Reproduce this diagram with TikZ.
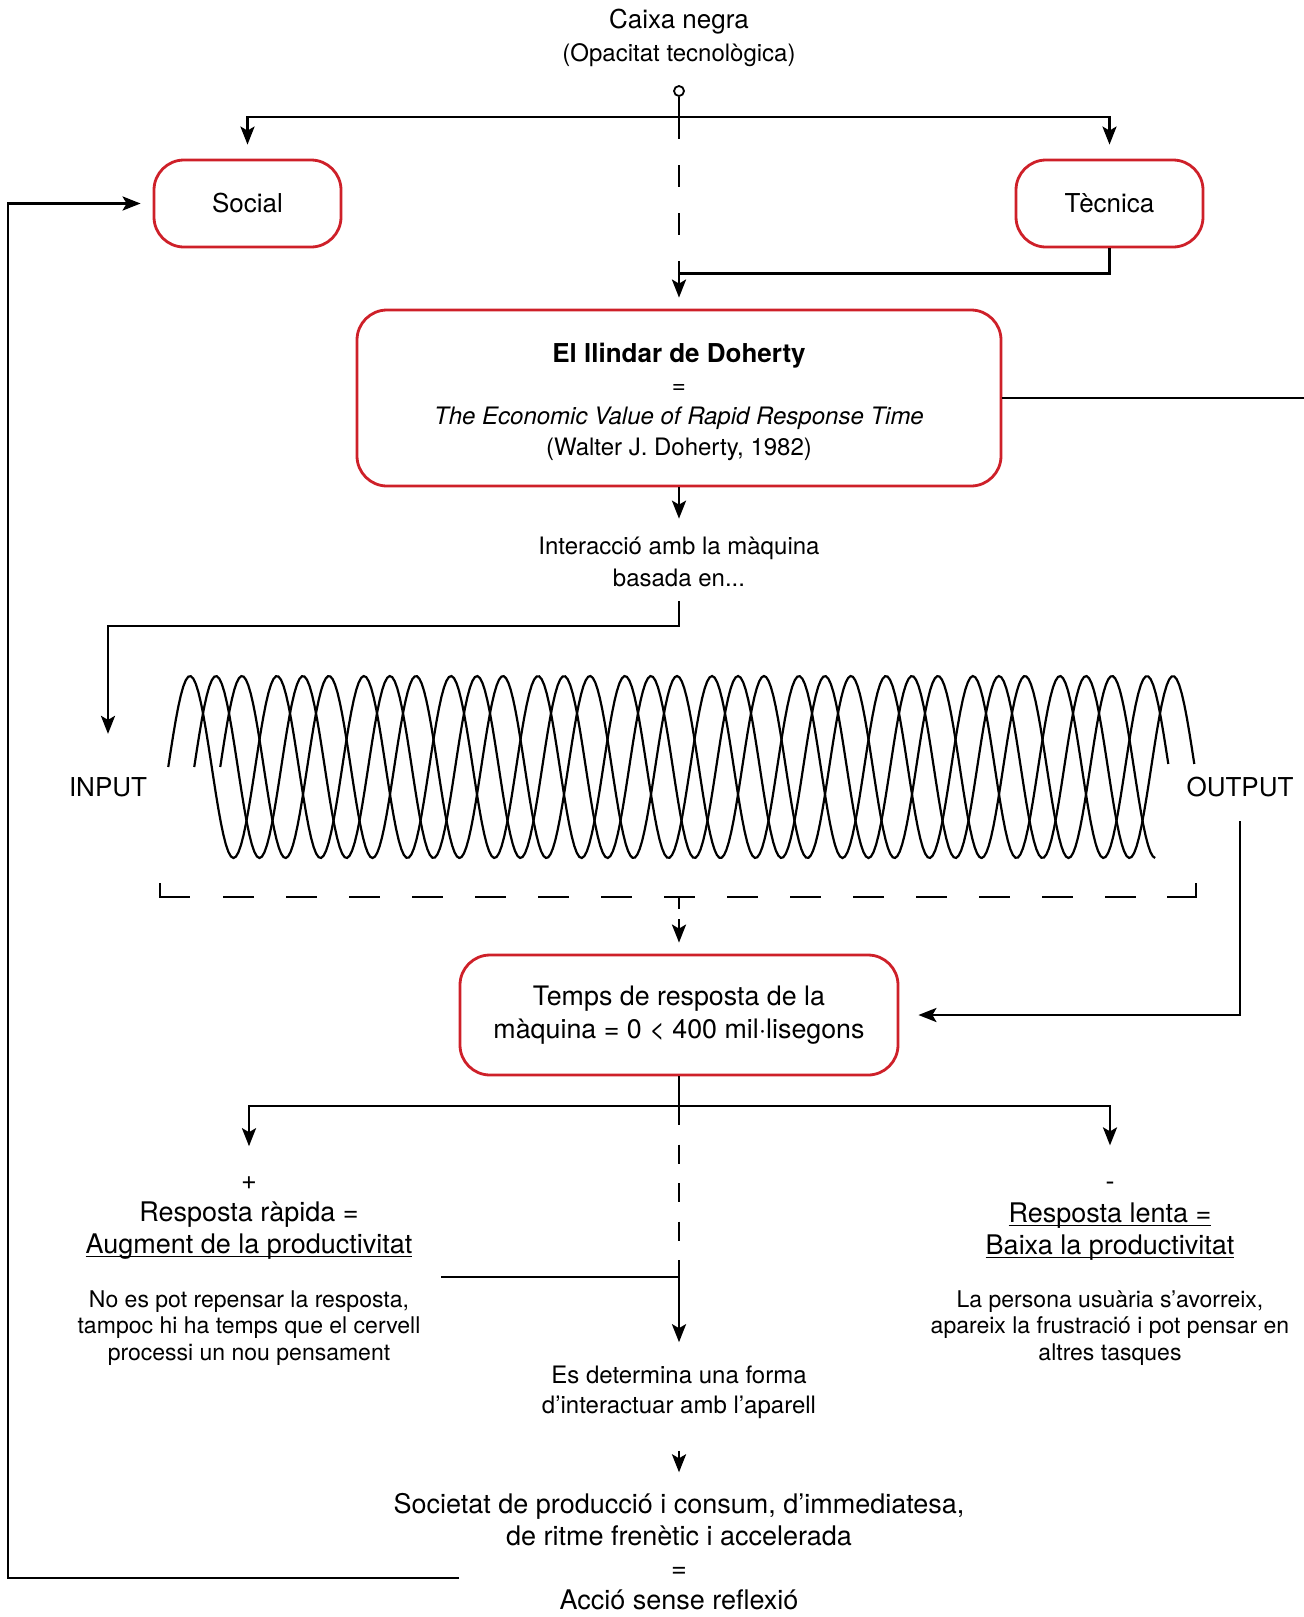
\documentclass[tikz,border=0pt]{standalone}
\usepackage{fontspec}
\setmainfont{TeX Gyre Heros}
\usepackage{tikz}
\usetikzlibrary{arrows.meta,positioning,calc}
\definecolor{myRed}{RGB}{206,32,41}
\newcommand{\mida}[2]{\fontsize{#1}{#2}\selectfont}
\newcommand{\subr}[1]{\underline{\smash{#1}}}

\begin{document}
\begin{tikzpicture}[>={Stealth[length=9pt,width=7pt,inset=2pt]}, x=0.5pt, y=-0.5pt]
\tikzstyle{capsa}=[draw=myRed, line width=1.4pt, rounded corners=15pt, align=center]
\tikzstyle{txt}=[align=center, inner sep=4pt]
\tikzstyle{linia}=[line width=1.4pt]
\tikzstyle{edge}=[->, line width=1.4pt]
\tikzstyle{espira}=[line width=1.1pt]
\useasboundingbox (0,0) rectangle (1304,1617);
% top: black box and its two sides
\node[txt, font=\mida{13}{16.5}] (negra) at (679,38) {Caixa negra\\{\mida{12}{16.5}(Opacitat tecnològica)}};
\node[circle, draw, line width=0.9pt, inner sep=0pt, minimum size=5pt] (dot) at (679,91) {};
\node[capsa, minimum width=93.5pt, minimum height=43.5pt, font=\mida{13}{16}] (social) at (247.5,203.5) {Social};
\node[capsa, minimum width=93.5pt, minimum height=43.5pt, font=\mida{13}{16}] (tecnica) at (1109.5,203.5) {Tècnica};
\node[capsa, minimum width=322pt, minimum height=88pt, font=\mida{12}{15.5}] (doherty) at (679,398)
  {{\mida{13}{15.5}\bfseries\rule{0pt}{13.4pt}El llindar de Doherty}\\=\\\textit{The Economic Value of Rapid Response Time}\\(Walter J. Doherty, 1982)};
\coordinate (bif) at (679,117);
\coordinate (vora) at (1304,398);
\draw[edge, shorten >=7pt] (dot.south) -- (bif) -| (social.north);
\draw[edge, shorten >=7pt] (bif) -| (tecnica.north);
\draw[linia, dash pattern=on 11pt off 13pt, shorten >=13.5pt] (bif) -- (doherty.north);
\draw[edge, shorten >=5.5pt] (tecnica.south) -- ++(0,25) -| (doherty.north);
\draw[linia] (doherty.east) -- (vora);
% interaction
\node[txt, font=\mida{12}{16}] (interaccio) at (679,562) {Interacció amb la màquina\\basada en...};
\node[txt, font=\mida{13}{16}] (input) at (108,787) {INPUT};
\node[txt, font=\mida{13}{16}] (output) at (1240,787) {OUTPUT};
\coordinate (gir) at (108,626);
\draw[edge, shorten >=5pt] (doherty.south) -- (interaccio.north);
\draw[edge, shorten <=3pt, shorten >=17.5pt] (interaccio.south) |- (gir) -- (input.north);
% coil
\foreach \k/\voltes in {0/11.5, 1/11.5, 2/10.75}
  \draw[espira] plot[domain=0:\voltes, samples=400] ({168.25+26*\k+87*\x}, {767-91*sin(360*\x)});
% dashed bracket
\coordinate (claudator) at (679,897);
\draw[linia] (160,883) |- (190,897);
\draw[linia, dash pattern=on 15.5pt off 16pt] (223,897) -- (1136,897);
\draw[linia] (1167,897) -| (1196,883);
% response time
\node[capsa, minimum width=219pt, minimum height=60pt, font=\mida{13.4}{16.5}] (temps) at (679,1015)
  {Temps de resposta de la\\màquina = 0 < 400 mil·lisegons};
\draw[edge, dash pattern=on 6pt off 5pt, shorten >=5.5pt] (claudator) -- (temps.north);
\draw[edge, shorten <=8pt, shorten >=9.5pt] (output.south) |- (temps.east);
% fast / slow
\node[txt, font=\mida{13.5}{16}] (rapida) at (249,1217) {+\\Resposta ràpida =\\\subr{Augment de la productivitat}};
\node[txt, font=\mida{11.5}{13.3}] (rapidanota) at (249,1328) {No es pot repensar la resposta,\\tampoc hi ha temps que el cervell\\processi un nou pensament};
\node[txt, font=\mida{13.5}{16}] (lenta) at (1110,1220) {-\\\subr{Resposta lenta =}\\\subr{Baixa la productivitat}};
\node[txt, font=\mida{11.5}{13.3}] (lentanota) at (1110,1328) {La persona usuària s’avorreix,\\apareix la frustració i pot pensar en\\altres tasques};
\coordinate (bif2) at (679,1106);
\coordinate (sortida) at (441,1277);
\draw[linia] (temps.south) -- (bif2);
\draw[edge, shorten >=11pt] (bif2) -| (rapida.north);
\draw[edge, shorten >=14pt] (bif2) -| (lenta.north);
\draw[linia, dash pattern=on 9.5pt off 9.75pt] (bif2) -- (bif2 |- sortida);
% outcome
\node[txt, font=\mida{12}{15}] (determina) at (679,1392) {Es determina una forma\\d’interactuar amb l’aparell};
\node[txt, font=\mida{13.5}{16}] (societat) at (679,1552) {Societat de producció i consum, d’immediatesa,\\de ritme frenètic i accelerada\\=\\Acció sense reflexió};
\draw[edge, shorten >=7.5pt] (sortida) -| (determina.north);
\draw[edge, shorten <=12pt, shorten >=6.5pt] (determina.south) -- (societat.north);
% feedback loop
\coordinate (retorn) at (459,1578);
\coordinate (cantonada) at (8,1578);
\draw[edge, shorten >=6pt] (retorn) -- (cantonada) |- (social.west);
\end{tikzpicture}
\end{document}
